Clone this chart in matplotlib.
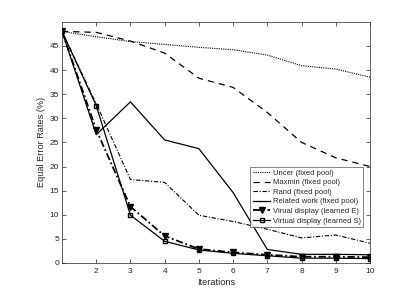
import matplotlib
matplotlib.use("Agg")
import matplotlib.pyplot as plt

plt.rcParams['font.family'] = ['Liberation Sans', 'DejaVu Sans']

iterations = [1, 2, 3, 4, 5, 6, 7, 8, 9, 10]
uncer = [48.0, 46.9, 45.9, 45.3, 44.7, 44.2, 43.1, 40.9, 40.2, 38.5]
maxmin = [48.0, 47.8, 46.0, 43.5, 38.3, 36.4, 31.2, 25.0, 21.8, 20.0]
rand = [48.0, 33.0, 17.3, 16.7, 9.9, 8.6, 7.0, 5.2, 5.8, 4.1]
related = [48.0, 26.6, 33.4, 25.5, 23.7, 14.6, 2.8, 1.8, 1.8, 1.7]
learned_e = [48.0, 27.6, 11.7, 5.6, 2.9, 2.2, 1.7, 1.3, 1.3, 1.2]
learned_s = [48.0, 32.6, 9.9, 4.5, 2.7, 2.0, 1.5, 1.0, 1.0, 0.9]

labels = ["Uncer (fixed pool)", "Maxmin (fixed pool)", "Rand (fixed pool)",
          "Related work (fixed pool)", "Virual display (learned E)",
          "Virtual display (learned S)"]

gray = '#262626'
fig = plt.figure(figsize=(4.19, 2.96), dpi=100)
ax = fig.add_axes([0.148, 0.1115, 0.735, 0.815])

ax.plot(iterations, uncer, color='k', lw=0.8, linestyle=(0, (1, 1)), label=labels[0])
ax.plot(iterations, maxmin, color='k', lw=0.9, linestyle=(0, (5, 4)), label=labels[1])
ax.plot(iterations, rand, color='k', lw=0.8, linestyle=(0, (4, 1.5, 1, 1.5)), label=labels[2])
ax.plot(iterations, related, color='k', lw=0.9, linestyle='-', label=labels[3])
ax.plot(iterations, learned_e, color='k', lw=1.3, linestyle=(0, (4, 1.5, 1, 1.5)),
        marker='v', markersize=4, markerfacecolor='k', label=labels[4])
ax.plot(iterations, learned_s, color='k', lw=0.9, linestyle='-',
        marker='s', markersize=3.5, markerfacecolor='none', markeredgewidth=1.0,
        label=labels[5])

ax.set_xlim(1, 10)
ax.set_ylim(0, 50)
ax.set_xticks([2, 3, 4, 5, 6, 7, 8, 9, 10])
ax.set_yticks([0, 5, 10, 15, 20, 25, 30, 35, 40, 45])
ax.tick_params(direction='in', top=True, right=True, length=3, width=0.5,
               labelsize=6, colors=gray)
ax.tick_params(axis='x', pad=3.5)
ax.tick_params(axis='y', pad=2)
for s in ax.spines.values():
    s.set_linewidth(0.5)
    s.set_color(gray)

ax.set_xlabel("Iterations", fontsize=6.6, color=gray, labelpad=2)
ax.set_ylabel("Equal Error Rates (%)", fontsize=6.6, color=gray, labelpad=3)

leg = ax.legend(loc='lower right', bbox_to_anchor=(0.977, 0.149), fontsize=5.5,
                frameon=True, fancybox=False, edgecolor=gray, handlelength=2.3,
                handletextpad=0.3, borderpad=0.3, labelspacing=0.3, borderaxespad=0)
leg.get_frame().set_linewidth(0.5)
for t in leg.get_texts():
    t.set_color(gray)

fig.savefig("out.png", dpi=100)
